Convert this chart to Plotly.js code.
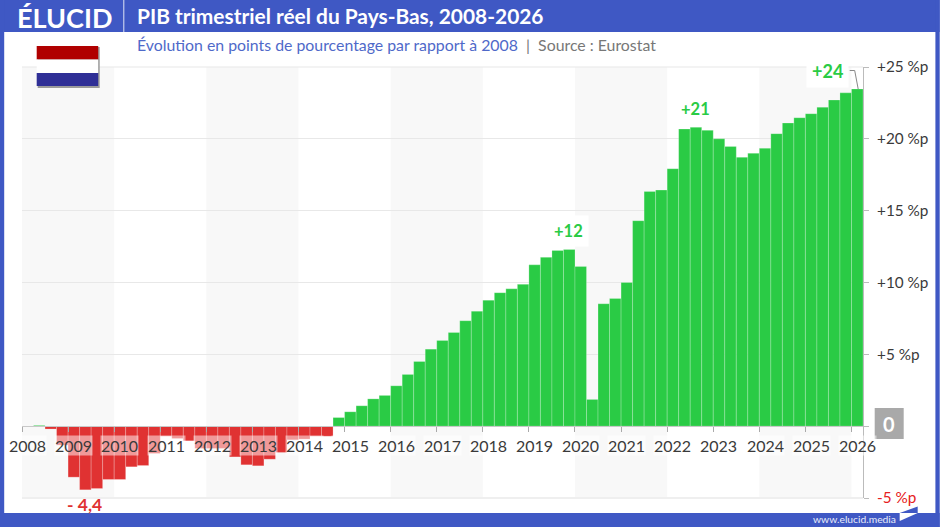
<!DOCTYPE html>
<html><head><meta charset="utf-8">
<script src="https://cdn.plot.ly/plotly-3.0.1.min.js"></script>
<style>html,body{margin:0;padding:0;background:#fff}#c{width:940px;height:527px}</style>
</head><body><div id="c"></div>
<script>
const firstYear = 2008;
const values = [
 0, 0.08, -0.2, -1.32, -3.55, -4.43, -4.34, -3.71, -3.71, -2.83, -2.74, -1.9, -0.7, -0.86, -1.02, -1.55, -1.55, -1.55, -2.14, -2.69, -2.76, -2.3, -1.83, -0.95, -0.9, -0.7, -0.7,
 0.6, 1.0, 1.42, 1.9, 2.14, 2.81, 3.6, 4.5, 5.36, 5.97, 6.52, 7.34, 8.0, 8.77, 9.29, 9.56, 9.87, 11.23, 11.75, 12.23, 12.3, 11.12, 1.86, 8.52, 8.89, 10.0,
 14.3, 16.34, 16.43, 17.92, 20.68, 20.8, 20.59, 20.0, 19.47, 18.71, 18.99, 19.34, 20.36, 21.1, 21.47, 21.75, 22.2, 22.7, 23.2, 23.47];
const yearLabels = [2008,2009,2010,2011,2012,2013,2014,2015,2016,2017,2018,2019,2020,2021,2022,2023,2024,2025,2026];
const bandStarts = [2008,2012,2016,2020,2024];
const yTickVals = [-5,0,5,10,15,20,25];
const yTickText = ['<span style="color:#e62020">-5 %p</span>','','+5 %p','+10 %p','+15 %p','+20 %p','+25 %p'];
const callouts = [
 {text:'+12', x:2019.86, y:13.6, size:16.5},
 {text:'+21', x:2022.62, y:22.1, size:16.5},
 {text:'+24', x:2025.47, y:24.7, size:18}
];
const minLabel = {text:'- 4,4', x:2009.35, y:-5};

const W=940,H=527,L=22.3,R=863.3,T=67,B=498;
const FONT='Lato, "Open Sans", sans-serif';
const BLUE='#3f58c4',GREEN='#2acb45',RED='#e03232';
const px=v=>(v-L)/(R-L), py=v=>(B-v)/(B-T);
const rect=(x0,y0,x1,y1,fill,extra)=>Object.assign({type:'rect',xref:'paper',yref:'paper',x0:px(x0),x1:px(x1),y0:py(y0),y1:py(y1),fillcolor:fill,line:{width:0},layer:'above'},extra||{});

const xs=values.map((v,i)=>firstYear+(i+0.5)/4);
const colors=values.map((v,i)=>v<0?RED:(i<2?'rgba(42,203,69,.55)':GREEN));

const shapes=[];
bandStarts.forEach(b=>shapes.push({type:'rect',xref:'x',yref:'paper',x0:b,x1:b+2,y0:0,y1:1,fillcolor:'#f8f8f8',line:{width:0},layer:'below'}));
shapes.push(rect(22.3,497,863.3,499,'#efefef'));
shapes.push(rect(22.3,66.5,863.3,67.5,'#e8e8e8'));
shapes.push(rect(0,0,940,32,BLUE));
shapes.push(rect(0,0,4.5,527,BLUE));
shapes.push(rect(935.7,0,940,527,BLUE));
shapes.push(rect(0,513,940,527,BLUE));
shapes.push(rect(123.6,0,124.6,32,'#dfe4f6'));
// flag
shapes.push(rect(38,47,100,88,'#9a9a9a'));
shapes.push(rect(37,46,98.5,59.5,'#b00000'));
shapes.push(rect(37,59.5,98.5,73,'#ffffff'));
shapes.push(rect(37,73,98.5,86,'#2f2f96'));
// leader line of the last callout
shapes.push({type:'path',xref:'paper',yref:'paper',layer:'above',
  path:`M ${px(850)} ${py(70.5)} L ${px(855)} ${py(70.5)} L ${px(858.5)} ${py(89)}`,line:{color:'#888',width:1}});
// logo corner mark
shapes.push({type:'path',xref:'paper',yref:'paper',layer:'above',fillcolor:'#3f58c4',line:{width:0},
  path:`M ${px(900)} ${py(513)} L ${px(918)} ${py(506.5)} L ${px(918)} ${py(513)} Z`});
shapes.push({type:'path',xref:'paper',yref:'paper',layer:'above',fillcolor:'#ffffff',line:{width:0},
  path:`M ${px(900)} ${py(513)} L ${px(918)} ${py(513)} L ${px(900)} ${py(521)} Z`});
// zero box
shapes.push(rect(875,408,904,439,'#a9a9a9'));

const ann=[];
yearLabels.forEach(y=>ann.push({text:String(y),x:y+0.125,y:-1.32,xref:'x',yref:'y',showarrow:false,xanchor:'center',yanchor:'middle',
  font:{family:FONT,size:16,color:'#3a3a3a'},bgcolor:'rgba(255,255,255,.5)',borderpad:0}));
callouts.forEach(c=>ann.push({text:'<b>'+c.text+'</b>',x:c.x,y:c.y,xref:'x',yref:'y',showarrow:false,xanchor:'center',yanchor:'middle',
  font:{family:FONT,size:c.size,color:GREEN},bgcolor:'#ffffff',borderpad:5}));
ann.push({text:'<b>'+minLabel.text+'</b>',x:minLabel.x,y:minLabel.y,xref:'x',yref:'y',yshift:-6,showarrow:false,xanchor:'center',yanchor:'middle',
  font:{family:FONT,size:17.5,color:RED}});
const free=(text,x,y,size,color,anchor)=>ann.push({text,xref:'paper',yref:'paper',x:px(x),y:py(y),showarrow:false,xanchor:anchor||'left',yanchor:'middle',font:{family:FONT,size,color}});
free('<b>ÉLUCID</b>',15,17,27,'#ffffff');
free('Évolution en points de pourcentage par rapport à 2008 <span style="color:#777"> |  Source : Eurostat</span>',135.5,44.5,15.85,'#4f69c9');
free('<b>0</b>',889.5,424,20,'#ffffff','center');
free('www.elucid.media',898.5,518.5,10.3,'#e8ecfa','right');

Plotly.newPlot('c',[{type:'bar',x:xs,y:values,width:0.25,marker:{color:colors,line:{color:'rgba(255,255,255,.22)',width:1}},hoverinfo:'x+y'}],{
 width:W,height:H,margin:{l:L,r:W-R,t:T,b:H-B,pad:0},
 paper_bgcolor:'#fff',plot_bgcolor:'#fff',showlegend:false,bargap:0,
 font:{family:FONT},
 title:{text:'<b>PIB trimestriel réel du Pays-Bas, 2008-2026</b>',x:137/W,xref:'container',xanchor:'left',y:1-17/H,yref:'container',yanchor:'middle',font:{family:FONT,size:20.9,color:'#fff'}},
 xaxis:{range:[firstYear,2026.25],tickmode:'array',tickvals:yearLabels,ticktext:yearLabels.map(()=>''),ticks:'outside',ticklen:5,tickcolor:'#aaa',tickwidth:1,
   anchor:'free',position:5/30,showgrid:false,zeroline:false,showline:true,linecolor:'#c8c8c8',linewidth:1,layer:'above traces'},
 yaxis:{range:[-5,25],side:'right',tickmode:'array',tickvals:yTickVals,ticktext:yTickText,ticks:'outside',ticklen:5,tickcolor:'#bbb',ticklabelstandoff:5,
   tickfont:{family:FONT,size:15.3,color:'#3a3a3a'},gridcolor:'#e8e8e8',gridwidth:1,zeroline:false,showline:true,linecolor:'#bbb',linewidth:1},
 shapes,annotations:ann
},{displayModeBar:false,staticPlot:true});
</script></body></html>
